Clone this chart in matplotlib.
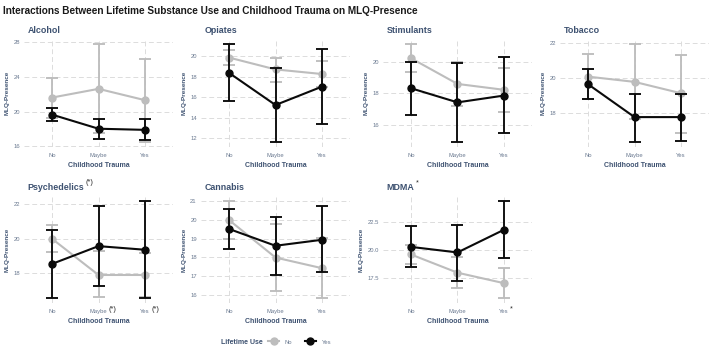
import matplotlib
matplotlib.use("Agg")
import matplotlib.pyplot as plt
from matplotlib.lines import Line2D
import numpy as np

plt.rcParams['font.family'] = ['Liberation Sans', 'DejaVu Sans']

categories = ["No", "Maybe", "Yes"]
substances = ["Alcohol", "Opiates", "Stimulants", "Tobacco", "Psychedelics", "Cannabis", "MDMA"]

# mean, upper, lower for Lifetime Use = No (gray) and Yes (black)
no_mean = {
    "Alcohol": [21.6, 22.6, 21.3],
    "Opiates": [19.87, 18.71, 18.26],
    "Stimulants": [20.22, 18.6, 18.23],
    "Tobacco": [20.08, 19.78, 19.13],
    "Psychedelics": [20.0, 17.9, 17.9],
    "Cannabis": [20.0, 17.99, 17.42],
    "MDMA": [19.59, 17.98, 17.05],
}
no_hi = {
    "Alcohol": [23.9, 27.7, 26.0],
    "Opiates": [20.65, 19.87, 19.49],
    "Stimulants": [21.09, 19.96, 19.59],
    "Tobacco": [21.36, 21.92, 21.34],
    "Psychedelics": [20.79, 19.26, 19.19],
    "Cannabis": [21.02, 19.79, 19.02],
    "MDMA": [20.41, 19.33, 18.39],
}
no_lo = {
    "Alcohol": [19.3, 17.5, 16.55],
    "Opiates": [19.1, 17.5, 16.97],
    "Stimulants": [19.38, 17.24, 16.82],
    "Tobacco": [18.82, 17.64, 16.85],
    "Psychedelics": [19.22, 16.6, 16.6],
    "Cannabis": [18.99, 16.18, 15.82],
    "MDMA": [18.74, 16.64, 15.73],
}
yes_mean = {
    "Alcohol": [19.65, 18.03, 17.9],
    "Opiates": [18.38, 15.23, 17.03],
    "Stimulants": [18.33, 17.44, 17.87],
    "Tobacco": [19.65, 17.77, 17.77],
    "Psychedelics": [18.54, 19.57, 19.36],
    "Cannabis": [19.52, 18.62, 18.94],
    "MDMA": [20.26, 19.77, 21.78],
}
yes_hi = {
    "Alcohol": [20.43, 19.2, 19.1],
    "Opiates": [21.16, 18.84, 20.7],
    "Stimulants": [20.0, 19.91, 20.28],
    "Tobacco": [20.54, 19.1, 19.1],
    "Psychedelics": [20.49, 21.89, 22.19],
    "Cannabis": [20.59, 20.16, 20.72],
    "MDMA": [22.08, 22.22, 24.33],
}
yes_lo = {
    "Alcohol": [18.88, 16.85, 16.7],
    "Opiates": [15.6, 11.65, 13.35],
    "Stimulants": [16.64, 14.97, 15.49],
    "Tobacco": [18.8, 16.37, 16.4],
    "Psychedelics": [16.56, 17.25, 16.56],
    "Cannabis": [18.47, 17.07, 17.23],
    "MDMA": [18.48, 17.28, 19.24],
}
yticks = {
    "Alcohol": [16, 20, 24, 28],
    "Opiates": [12, 14, 16, 18, 20],
    "Stimulants": [16, 18, 20],
    "Tobacco": [18, 20, 22],
    "Psychedelics": [18, 20, 22],
    "Cannabis": [16, 17, 18, 19, 20, 21],
    "MDMA": [17.5, 20.0, 22.5],
}
ytick_fmt = {"MDMA": "{:.1f}"}
title_sup = {"Psychedelics": "(*)", "MDMA": "*"}
xtick_sup = {"Psychedelics": {1: "(*)", 2: "(*)"}, "MDMA": {2: "*"}}

GRAY = "#bdbdbd"
BLACK = "#0a0a0a"
SLATE = "#3e5271"
TICKC = "#6b7a91"

W, H = 710, 347
fig = plt.figure(figsize=(W / 100, H / 100), dpi=100)
fig.patch.set_facecolor("white")

col_left = [24, 201, 383, 560]
ax_w = 149
rows_top = [39.5, 196]
ax_h = 107

fig.text(3 / W, 1 - 10.5 / H, "Interactions Between Lifetime Substance Use and Childhood Trauma on MLQ-Presence",
         fontsize=7.2, fontweight="bold", color="#1a1a1a", va="center", ha="left")

x = np.arange(len(categories))
axes = {}
for i, s in enumerate(substances):
    r, c = divmod(i, 4)
    left = col_left[c]
    top = rows_top[r]
    ax = fig.add_axes([left / W, 1 - (top + ax_h) / H, ax_w / W, ax_h / H])
    axes[s] = ax
    for mean, hi, lo, col, z in [(no_mean, no_hi, no_lo, GRAY, 2), (yes_mean, yes_hi, yes_lo, BLACK, 3)]:
        m = np.array(mean[s]); h = np.array(hi[s]); l = np.array(lo[s])
        ax.errorbar(x, m, yerr=[m - l, h - m], fmt="none", ecolor=col, elinewidth=1.35,
                    capsize=4.5, capthick=1.35, zorder=z)
        ax.plot(x, m, color=col, lw=1.5, marker="o", ms=5.0, zorder=z + 0.5)
    allv = np.concatenate([np.array(no_hi[s]), np.array(no_lo[s]), np.array(yes_hi[s]), np.array(yes_lo[s])])
    lo_, hi_ = allv.min(), allv.max()
    pad = 0.05 * (hi_ - lo_)
    ax.set_ylim(lo_ - pad, hi_ + pad)
    ax.set_xlim(-0.6, 2.6)
    ax.set_xticks(x)
    ax.set_xticklabels(categories)
    ax.set_yticks(yticks[s])
    fmt = ytick_fmt.get(s, "{:g}")
    ax.set_yticklabels([fmt.format(v) for v in yticks[s]])
    ax.tick_params(length=0, labelsize=4.2, colors=TICKC, pad=4.5)
    ax.tick_params(axis="y", pad=3)
    ax.grid(True, color="#dcdcdc", lw=0.7, ls=(0, (5, 3)))
    ax.set_axisbelow(True)
    for sp in ax.spines.values():
        sp.set_visible(False)
    ax.set_ylabel("MLQ-Presence", fontsize=4.6, fontweight="bold", color=SLATE, labelpad=2.5)
    ax.set_xlabel("Childhood Trauma", fontsize=5.0, fontweight="bold", color=SLATE, labelpad=3)
    t = ax.text(0.025, 1.0, s, transform=ax.transAxes, fontsize=6.4, fontweight="bold",
                color=SLATE, ha="left", va="bottom")
    t.set_y(1.0 + 4 / ax_h)
    if s in title_sup:
        ax.annotate(title_sup[s], xy=(1, 1), xycoords=t, xytext=(1, 0), textcoords="offset points",
                    fontsize=5.2, color="#222222", ha="left", va="center")
    if s in xtick_sup:
        labels = ax.get_xticklabels()
        for idx, sup in xtick_sup[s].items():
            ax.annotate(sup, xy=(1, 1), xycoords=labels[idx], xytext=(1, 0), textcoords="offset points",
                        fontsize=5.2, color="#222222", ha="left", va="center")

# legend
fig.text(221 / W, 1 - 342 / H, "Lifetime Use", fontsize=5.0, fontweight="bold", color=SLATE, va="center", ha="left")
handles = [Line2D([], [], color=GRAY, lw=1.5, marker="o", ms=5.0),
           Line2D([], [], color=BLACK, lw=1.5, marker="o", ms=5.0)]
leg = fig.legend(handles, ["No", "Yes"], ncol=2, loc="center left", bbox_to_anchor=(268 / W, 1 - 342 / H),
                 frameon=False, fontsize=4.2, handlelength=1.9, columnspacing=2.1, handletextpad=1.0,
                 borderpad=0, borderaxespad=0)
for tx in leg.get_texts():
    tx.set_color(TICKC)

fig.savefig("out.png", dpi=100, facecolor="white")
